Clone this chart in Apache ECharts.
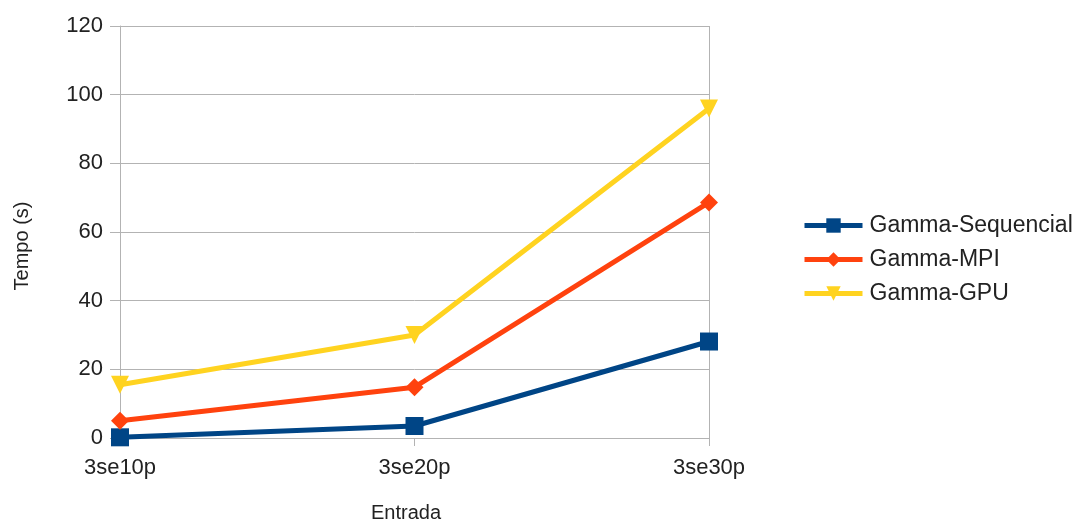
<!DOCTYPE html>
<html>
<head>
<meta charset="utf-8">
<script src="https://cdn.jsdelivr.net/npm/echarts@6/dist/echarts.min.js"></script>
<style>
  html, body { margin: 0; padding: 0; background: #fff; }
  #chart { width: 1083px; height: 522px; }
</style>
</head>
<body>
<div id="chart"></div>
<script>
// Input sizes (x axis)
const categories = ['3se10p', '3se20p', '3se30p'];

// Execution time in seconds for each implementation
const seqTimes = [0.2, 3.5, 28.1];
const mpiTimes = [5.0, 14.8, 68.6];
const gpuTimes = [15.5, 30.0, 96.0];

const seriesNames = ['Gamma-Sequencial', 'Gamma-MPI', 'Gamma-GPU'];
const seriesColors = ['#004586', '#ff420e', '#ffd320'];

const font = '"Liberation Sans", Arial, sans-serif';
const textColor = '#222222';
const gridColor = '#b3b3b3';

function makeSeries(name, data, color, symbol, size) {
  return {
    name: name,
    type: 'line',
    data: data,
    symbol: symbol,
    symbolSize: size,
    showAllSymbol: true,
    lineStyle: { color: color, width: 5 },
    itemStyle: { color: color },
    emphasis: { disabled: true },
    animation: false
  };
}

const chart = echarts.init(document.getElementById('chart'), null, { renderer: 'canvas' });
chart.setOption({
  backgroundColor: '#ffffff',
  animation: false,
  grid: { left: 120, right: 374, top: 26, bottom: 84, containLabel: false, outerBoundsMode: 'none' },
  legend: {
    orient: 'vertical',
    left: 802,
    top: 214,
    padding: 0,
    itemWidth: 58,
    itemHeight: 18,
    itemGap: 11,
    lineStyle: { width: 5 },
    textStyle: { fontFamily: font, fontSize: 23, color: textColor, padding: [0, 0, 0, 2] },
    data: seriesNames
  },
  // Axis titles
  graphic: [
    {
      type: 'text',
      x: 22, y: 246, rotation: Math.PI / 2,
      style: { text: 'Tempo (s)', font: '20px ' + font, fill: textColor, align: 'center', verticalAlign: 'middle' }
    },
    {
      type: 'text',
      x: 406, y: 513,
      style: { text: 'Entrada', font: '20px ' + font, fill: textColor, align: 'center', verticalAlign: 'middle' }
    }
  ],
  xAxis: {
    type: 'category',
    data: categories,
    boundaryGap: false,
    axisLine: { show: true, lineStyle: { color: gridColor, width: 1 } },
    axisTick: { show: true, length: 8, alignWithLabel: true, lineStyle: { color: gridColor } },
    axisLabel: { fontFamily: font, fontSize: 22, color: textColor, margin: 19 },
    // only the right edge of the plot gets a vertical rule
    splitLine: { show: true, interval: function (i) { return i === categories.length - 1; }, lineStyle: { color: gridColor, width: 1 } }
  },
  yAxis: {
    type: 'value',
    min: 0,
    max: 120,
    interval: 20,
    axisLine: { show: true, lineStyle: { color: gridColor, width: 1 } },
    axisTick: { show: true, length: 10, lineStyle: { color: gridColor } },
    axisLabel: { fontFamily: font, fontSize: 22, color: textColor, margin: 17 },
    splitLine: { show: true, lineStyle: { color: gridColor, width: 1 } }
  },
  series: [
    makeSeries(seriesNames[0], seqTimes, seriesColors[0], 'rect', 18),
    makeSeries(seriesNames[1], mpiTimes, seriesColors[1], 'diamond', 18),
    makeSeries(seriesNames[2], gpuTimes, seriesColors[2], 'path://M0,0 L10,0 L5,9.5 Z', 18)
  ]
});
</script>
</body>
</html>
